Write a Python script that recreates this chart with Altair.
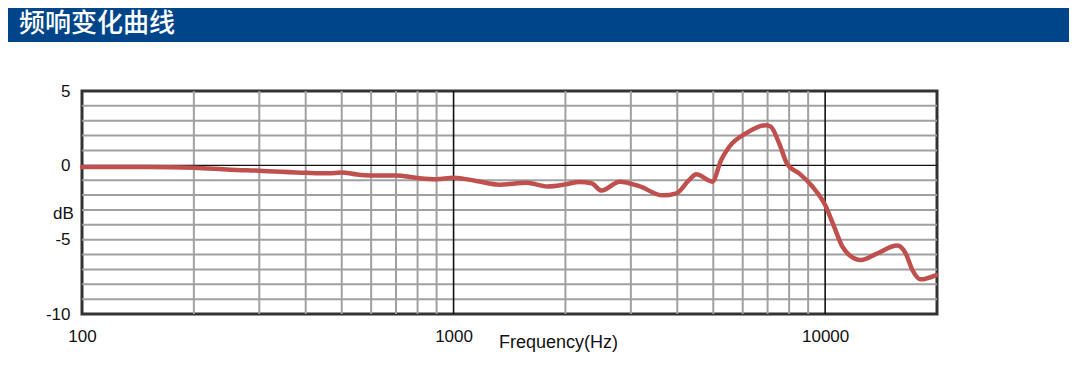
import altair as alt
import pandas as pd

# Frequency response data
freq_hz = [100, 150, 200, 250, 300, 400, 460, 500, 550, 600, 700, 800, 900, 1000,
           1150, 1330, 1570, 1790, 2000, 2180, 2350, 2500, 2800, 3160, 3650, 3980,
           4300, 4500, 4970, 5250, 5520, 6120, 6920, 7140, 7520, 7920, 8510, 9250,
           10000, 10570, 11130, 11610, 12490, 13690, 15640, 16470, 17170, 18080, 19900]
level_db = [-0.12, -0.12, -0.16, -0.3, -0.36, -0.5, -0.54, -0.48, -0.62, -0.68, -0.68, -0.85, -0.93, -0.83,
            -1.05, -1.3, -1.17, -1.42, -1.28, -1.12, -1.2, -1.7, -1.1, -1.4, -2.02, -1.88,
            -1.0, -0.6, -1.1, 0.36, 1.25, 2.15, 2.7, 2.6, 1.48, 0.05, -0.54, -1.44,
            -2.67, -4.13, -5.47, -6.03, -6.37, -5.97, -5.4, -5.92, -7.04, -7.67, -7.38]

x_tick_values = [100, 1000, 10000]
y_tick_values = [5, 0, -5, -10]
minor_freqs = [200, 300, 400, 500, 600, 700, 800, 900,
               2000, 3000, 4000, 5000, 6000, 7000, 8000, 9000]
major_freqs = [1000, 10000]
minor_db = [4, 3, 2, 1, -1, -2, -3, -4, -5, -6, -7, -8, -9]
major_db = [0]

title_text = "频响变化曲线"
x_title = "Frequency(Hz)"
y_title = "dB"

W, H = 855, 223
FONT = "Liberation Sans"

xscale = alt.Scale(type="log", domain=[100, 20000], nice=False)
yscale = alt.Scale(domain=[-10, 5], nice=False)

curve_df = pd.DataFrame({"f": freq_hz, "db": level_db})

vminor = alt.Chart(pd.DataFrame({"f": minor_freqs})).mark_rule(
    color="#a0a0a0", strokeWidth=2
).encode(x=alt.X("f:Q", scale=xscale))
vmajor = alt.Chart(pd.DataFrame({"f": major_freqs})).mark_rule(
    color="#111111", strokeWidth=1.6
).encode(x=alt.X("f:Q", scale=xscale))
hminor = alt.Chart(pd.DataFrame({"db": minor_db})).mark_rule(
    color="#a0a0a0", strokeWidth=2
).encode(y=alt.Y("db:Q", scale=yscale))
hmajor = alt.Chart(pd.DataFrame({"db": major_db})).mark_rule(
    color="#111111", strokeWidth=1.3
).encode(y=alt.Y("db:Q", scale=yscale))

curve = alt.Chart(curve_df).mark_line(
    color="#C0504D", strokeWidth=4.5, interpolate="monotone", strokeCap="round"
).encode(
    x=alt.X("f:Q", scale=xscale,
            axis=alt.Axis(values=x_tick_values, labelExpr="'' + datum.value",
                          grid=False, ticks=False,
                          domain=False, labelFontSize=17, labelFont=FONT,
                          labelColor="#111111", labelPadding=14, labelFlush=False,
                          labelOverlap=False, labelBound=False,
                          title=x_title, titleFont=FONT, titleFontSize=18,
                          titleFontWeight="normal", titleColor="#111111",
                          titleX=476, titleY=28, titleBaseline="middle",
                          titleAlign="center")),
    y=alt.Y("db:Q", scale=yscale,
            axis=alt.Axis(values=y_tick_values, labelExpr="'' + datum.value",
                          grid=False, ticks=False, domain=False,
                          labelFontSize=17, labelFont=FONT, labelColor="#111111",
                          labelPadding=12, labelOverlap=False,
                          title=y_title, titleFont=FONT, titleFontSize=17,
                          titleFontWeight="normal", titleColor="#111111",
                          titleAngle=0, titleX=-19, titleY=122,
                          titleBaseline="middle", titleAlign="center")),
)

bar = alt.Chart(pd.DataFrame({"t": [title_text]})).mark_rect(
    color="#00448A"
).encode(
    x=alt.value(-74), x2=alt.value(990), y=alt.value(-83), y2=alt.value(-49)
)
bar_text = alt.Chart(pd.DataFrame({"t": [title_text]})).mark_text(
    color="white", font="Noto Sans CJK SC", fontSize=26, align="left",
    baseline="middle", fontWeight=500
).encode(
    x=alt.value(-63), y=alt.value(-67), text="t:N"
)

chart = alt.layer(bar, bar_text, hminor, vminor, hmajor, vmajor, curve).properties(
    width=W, height=H,
    autosize=alt.AutoSizeParams(type="none"),
    padding={"left": 74, "top": 83, "right": 132, "bottom": 43},
    background="white",
).configure_view(
    stroke="#333333", strokeWidth=3
)

chart.save("out.html", embed_options={"renderer": "svg", "actions": False})
